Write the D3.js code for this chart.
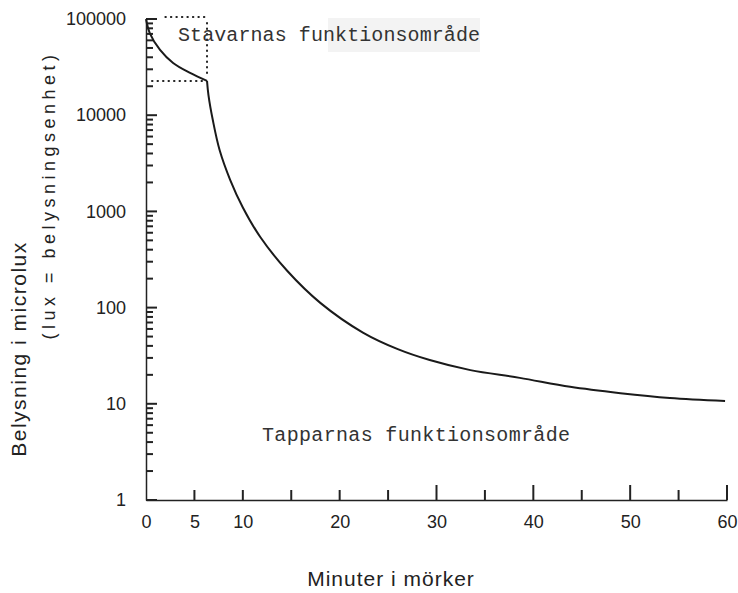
<!DOCTYPE html>
<html>
<head>
<meta charset="utf-8">
<script src="https://cdn.jsdelivr.net/npm/d3@7"></script>
<style>
  body { margin: 0; background: #fff; }
  svg { display: block; }
  .tick text { font-family: "Liberation Sans", Arial, sans-serif; font-size: 18px; fill: #222; }
  .mono { font-family: "Liberation Mono", "DejaVu Sans Mono", monospace; font-size: 20px; fill: #333; }
</style>
</head>
<body>
<script>
// rod phase (before the kink) and cone phase, minutes in dark vs threshold in microlux
var rodMinutes = [0, 0.4, 1.45, 2.8, 4.55, 6.3];
var rodLux = [100000, 71000, 47700, 34900, 27500, 22700];
var coneMinutes = [6.3, 6.45, 6.9, 7.6, 8.7, 10, 11.8, 14.6, 18, 22.4, 26, 29.3, 33.5, 38.6, 43.8, 49, 54.1, 59.8];
var coneLux = [22700, 16200, 8900, 4350, 2120, 1100, 542, 240, 112, 55, 37, 28.5, 22.4, 18.6, 15, 12.9, 11.5, 10.7];

var xTicks = [0, 5, 10, 20, 30, 40, 50, 60];
var xTicksAll = [0, 5, 10, 15, 20, 25, 30, 35, 40, 45, 50, 55, 60];
var yTicks = [1, 10, 100, 1000, 10000, 100000];
var yLabels = ["1", "10", "100", "1000", "10000", "100000"];

var kink = {min: 6.3, lux: 22700};

var W = 738, H = 593;
var svg = d3.select("body").append("svg").attr("width", W).attr("height", H);

var x = d3.scaleLinear().domain([0, 60]).range([146, 727]);
var y = d3.scaleLog().domain([1, 100000]).range([500, 19]);

// minor log ticks
var minor = [];
for (var d = 1; d < 100000; d *= 10) {
  for (var k = 2; k <= 9; k++) minor.push(d * k);
}

var yAxis = svg.append("g")
  .attr("transform", "translate(" + x(0) + ",0)")
  .call(d3.axisLeft(y).tickValues(yTicks)
    .tickFormat((v, i) => yLabels[i])
    .tickSizeInner(0).tickSizeOuter(0).tickPadding(20));
yAxis.select(".domain").attr("stroke", "#222").attr("stroke-width", 1.5);

var xAxis = svg.append("g")
  .attr("transform", "translate(0," + y(1) + ")")
  .call(d3.axisBottom(x).tickValues(xTicks)
    .tickSizeInner(0).tickSizeOuter(0).tickPadding(15));
xAxis.select(".domain").attr("stroke", "#222").attr("stroke-width", 1.5);

// tick marks pointing into the plot
var tk = svg.append("g").attr("stroke", "#222").attr("stroke-width", 2);
tk.selectAll("line.ymin").data(minor).join("line").attr("class", "ymin")
  .attr("x1", x(0)).attr("x2", x(0) + 7)
  .attr("y1", d => y(d)).attr("y2", d => y(d));
tk.selectAll("line.ymaj").data(yTicks).join("line").attr("class", "ymaj")
  .attr("x1", x(0)).attr("x2", x(0) + 11)
  .attr("y1", d => y(d)).attr("y2", d => y(d));
tk.selectAll("line.xt").data(xTicksAll.slice(1)).join("line").attr("class", "xt")
  .attr("x1", d => x(d)).attr("x2", d => x(d))
  .attr("y1", y(1)).attr("y2", d => y(1) - (d % 10 === 0 && d > 20 ? 15 : 10));

// dotted guide lines around the rod region
var dots = svg.append("g")
  .attr("stroke", "#222").attr("stroke-width", 2)
  .attr("stroke-dasharray", "0.5,5").attr("stroke-linecap", "round");
dots.append("line")
  .attr("x1", x(0) + 6).attr("x2", x(kink.min) - 4)
  .attr("y1", y(kink.lux)).attr("y2", y(kink.lux));
dots.append("line")
  .attr("x1", x(2)).attr("x2", x(kink.min))
  .attr("y1", y(100000) - 2).attr("y2", y(100000) - 2);
dots.append("line")
  .attr("x1", x(kink.min)).attr("x2", x(kink.min))
  .attr("y1", y(100000) + 4).attr("y2", y(kink.lux) - 4);

var line = d3.line()
  .x(d => x(d[0]))
  .y(d => y(d[1]))
  .curve(d3.curveCatmullRom.alpha(0.5));

svg.append("path")
  .datum(rodMinutes.map((m, i) => [m, rodLux[i]]))
  .attr("d", line)
  .attr("fill", "none").attr("stroke", "#1a1a1a").attr("stroke-width", 2);

svg.append("path")
  .datum(coneMinutes.map((m, i) => [m, coneLux[i]]))
  .attr("d", line)
  .attr("fill", "none").attr("stroke", "#1a1a1a").attr("stroke-width", 2);

// faint patch behind part of the typed label, as in the scan
svg.append("rect")
  .attr("x", 328).attr("y", 18).attr("width", 152).attr("height", 34)
  .attr("fill", "#f3f3f3");

svg.append("text").attr("class", "mono")
  .attr("x", 178).attr("y", 41)
  .attr("textLength", 302)
  .text("Stavarnas funktionsområde");

svg.append("text").attr("class", "mono")
  .attr("x", 262).attr("y", 441)
  .attr("textLength", 308)
  .text("Tapparnas funktionsområde");

svg.append("text")
  .attr("transform", "translate(26,349) rotate(-90)")
  .attr("text-anchor", "middle")
  .style("font-family", "'Liberation Sans', Arial, sans-serif")
  .style("font-size", "21px").style("fill", "#222")
  .style("letter-spacing", "1.5px")
  .text("Belysning  i  microlux");

svg.append("text")
  .attr("transform", "translate(55,195) rotate(-90)")
  .attr("text-anchor", "middle")
  .style("font-family", "'Liberation Sans', Arial, sans-serif")
  .style("font-size", "18px").style("fill", "#222")
  .style("letter-spacing", "4.5px")
  .text("(lux = belysningsenhet)");

svg.append("text")
  .attr("x", 391).attr("y", 586)
  .attr("text-anchor", "middle")
  .style("font-family", "'Liberation Sans', Arial, sans-serif")
  .style("font-size", "21px").style("fill", "#222")
  .style("letter-spacing", "1px")
  .text("Minuter  i  mörker");
</script>
</body>
</html>
